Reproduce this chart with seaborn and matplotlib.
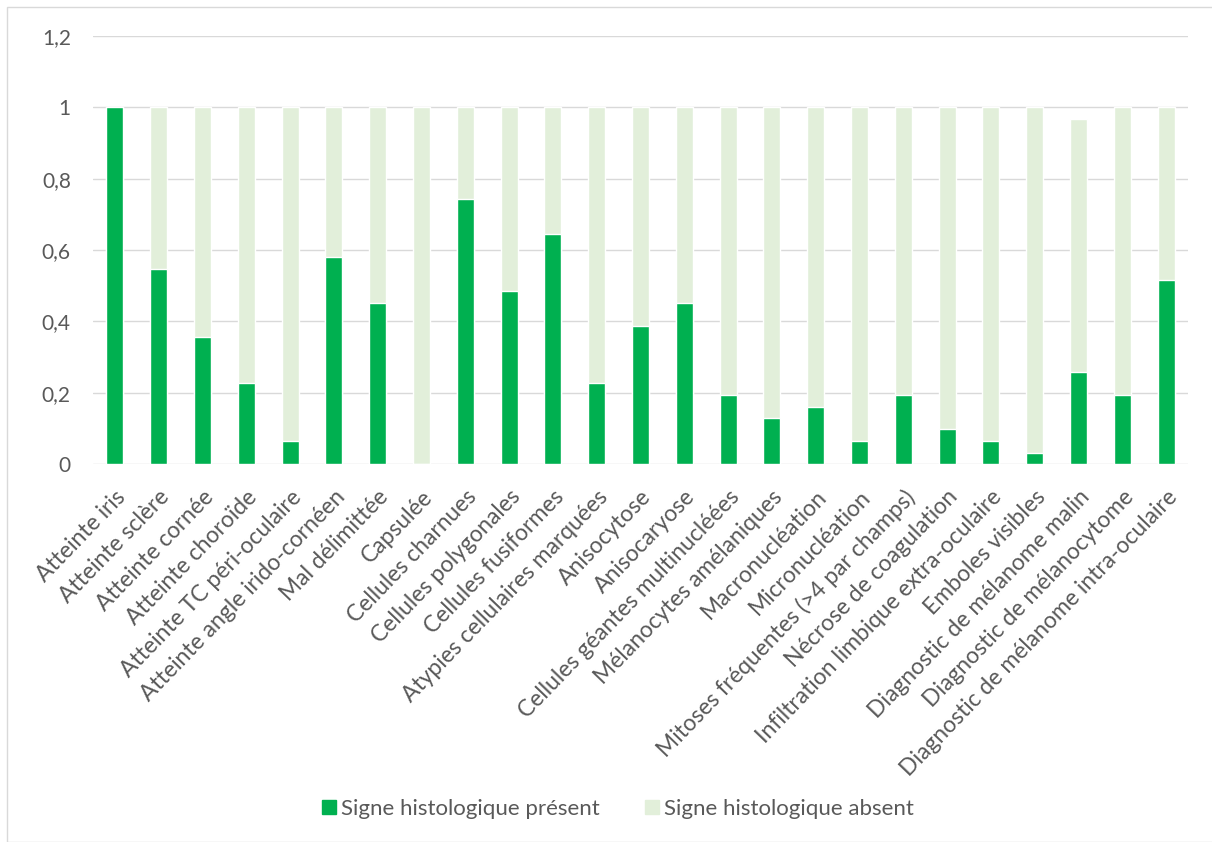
import matplotlib
matplotlib.use('Agg')
import matplotlib.pyplot as plt
import matplotlib.patches as mpatches
from matplotlib.ticker import FuncFormatter
import seaborn as sns

# donnees (proportions)
categories = [
    'Atteinte iris', 'Atteinte sclère', 'Atteinte cornée', 'Atteinte choroïde',
    'Atteinte TC péri-oculaire', 'Atteinte angle irido-cornéen', 'Mal délimittée',
    'Capsulée', 'Cellules charnues', 'Cellules polygonales', 'Cellules fusiformes',
    'Atypies cellulaires marquées', 'Anisocytose', 'Anisocaryose',
    'Cellules géantes multinucléées', 'Mélanocytes amélaniques', 'Macronucléation',
    'Micronucléation', 'Mitoses fréquentes (>4 par champs)', 'Nécrose de coagulation',
    'Infiltration limbique extra-oculaire', 'Emboles visibles',
    'Diagnostic de mélanome malin', 'Diagnostic de mélanocytome',
    'Diagnostic de mélanome intra-oculaire',
]
present = [1.0, 0.548, 0.355, 0.226, 0.065, 0.581, 0.452, 0.0, 0.742, 0.484,
           0.645, 0.226, 0.387, 0.452, 0.194, 0.129, 0.161, 0.065, 0.194, 0.097,
           0.065, 0.032, 0.258, 0.194, 0.516]
absent = [0.0, 0.452, 0.645, 0.774, 0.935, 0.419, 0.548, 1.0, 0.258, 0.516,
          0.355, 0.774, 0.613, 0.548, 0.806, 0.871, 0.839, 0.935, 0.806, 0.903,
          0.935, 0.968, 0.710, 0.806, 0.484]
yticks = [0, 0.2, 0.4, 0.6, 0.8, 1.0, 1.2]

col_present = '#00B050'
col_absent = '#E2EFDA'
txt_col = '#595959'

sns.set_theme(style='white')
plt.rcParams['font.family'] = ['Lato', 'DejaVu Sans']

fig = plt.figure(figsize=(12.12, 8.42), dpi=100)
ax = fig.add_axes([93 / 1212, 1 - 464 / 842, 1095 / 1212, 428 / 842])

# empilement : total (absent au-dessus) puis present par-dessus
total = [p + a for p, a in zip(present, absent)]
sns.barplot(x=categories, y=total, color=col_absent, saturation=1, width=0.39, ax=ax)
sns.barplot(x=categories, y=present, color=col_present, saturation=1, width=0.39, ax=ax)

ax.set_xlim(-0.5, len(categories) - 0.5)
ax.set_ylim(0, 1.2)
ax.set_yticks(yticks)
ax.yaxis.set_major_formatter(FuncFormatter(lambda v, _: ('%g' % round(v, 1)).replace('.', ',')))
ax.grid(axis='y', color='#D9D9D9', linewidth=1.0)
ax.set_axisbelow(True)
for s in ax.spines.values():
    s.set_visible(False)
ax.tick_params(axis='y', length=0, pad=16, labelsize=15, labelcolor=txt_col)
ax.tick_params(axis='x', length=0, pad=16, labelsize=16.5, labelcolor=txt_col)
ax.set_xlabel('')
ax.set_ylabel('')
plt.setp(ax.get_xticklabels(), rotation=46, ha='right', va='top', rotation_mode='anchor')

handles = [mpatches.Patch(color=col_present, label='Signe histologique présent'),
           mpatches.Patch(color=col_absent, label='Signe histologique absent')]
fig.legend(handles=handles, loc='center', bbox_to_anchor=(618 / 1212, 1 - 809 / 842),
           ncol=2, frameon=False, fontsize=16, labelcolor=txt_col,
           handlelength=0.63, handleheight=0.63, handletextpad=0.25, columnspacing=2.0)

# cadre du graphique
fig.patches.append(mpatches.Rectangle((7 / 1212, 0), 1.1, 1 - 7 / 842, transform=fig.transFigure,
                                      fill=False, edgecolor='#D9D9D9', linewidth=1.0))

fig.savefig('out.png', dpi=100)
